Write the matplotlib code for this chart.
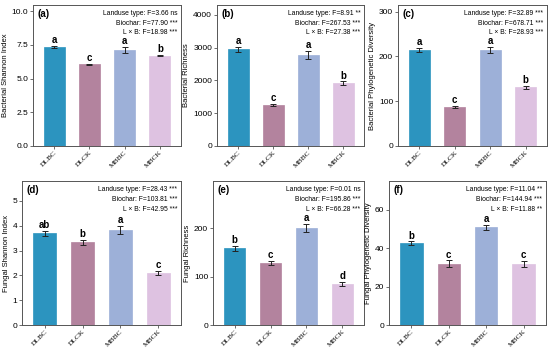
import matplotlib
matplotlib.use("Agg")
import matplotlib.pyplot as plt

plt.rcParams['font.family'] = ['Liberation Sans', 'DejaVu Sans']

groups = ['DLBC', 'DLCK', 'MBBC', 'MBCK']
colors = ['#2c94bf', '#b3839e', '#9db0d8', '#dec2e1']

# means, errors, letters for each panel
shannon_bac = [7.35, 6.07, 7.12, 6.68]
shannon_bac_err = [0.05, 0.04, 0.22, 0.04]
rich_bac = [2950, 1260, 2780, 1910]
rich_bac_err = [80, 30, 130, 60]
pd_bac = [214, 87, 215, 131]
pd_bac_err = [5, 3, 7, 4]
shannon_fun = [3.70, 3.33, 3.82, 2.10]
shannon_fun_err = [0.10, 0.10, 0.16, 0.08]
rich_fun = [158, 128, 200, 85]
rich_fun_err = [5, 5, 8, 4]
pd_fun = [42.5, 32.0, 50.8, 31.7]
pd_fun_err = [1.0, 1.6, 1.3, 1.5]

letters = [['a', 'c', 'a', 'b'], ['a', 'c', 'a', 'b'], ['a', 'c', 'a', 'b'],
           ['ab', 'b', 'a', 'c'], ['b', 'c', 'a', 'd'], ['b', 'c', 'a', 'c']]

stats = [
    ['Landuse type: F=3.66 ns', 'Biochar: F=77.90 ***', 'L × B: F=18.98 ***'],
    ['Landuse type: F=8.91 **', 'Biochar: F=267.53 ***', 'L × B: F=27.38 ***'],
    ['Landuse type: F=32.89 ***', 'Biochar: F=678.71 ***', 'L × B: F=28.93 ***'],
    ['Landuse type: F=28.43 ***', 'Biochar: F=103.81 ***', 'L × B: F=42.95 ***'],
    ['Landuse type: F=0.01 ns', 'Biochar: F=195.86 ***', 'L × B: F=66.28 ***'],
    ['Landuse type: F=11.04 **', 'Biochar: F=144.94 ***', 'L × B: F=11.88 **'],
]

ylabels = ['Bacterial Shannon Index', 'Bacterial Richness', 'Bacterial Phylogenetic Diversity',
           'Fungal Shannon Index', 'Fungal Richness', 'Fungal Phylogenetic Diversity']
panel_tags = ['(a)', '(b)', '(c)', '(d)', '(e)', '(f)']

data = [(shannon_bac, shannon_bac_err), (rich_bac, rich_bac_err), (pd_bac, pd_bac_err),
        (shannon_fun, shannon_fun_err), (rich_fun, rich_fun_err), (pd_fun, pd_fun_err)]

ylims = [10.45, 4300, 315, 5.8, 297, 75]
yticks = [[0, 2.5, 5.0, 7.5, 10.0], [0, 1000, 2000, 3000, 4000], [0, 100, 200, 300],
          [0, 1, 2, 3, 4, 5], [0, 100, 200], [0, 20, 40, 60]]
ytickfmt = ['{:.1f}', '{:.0f}', '{:.0f}', '{:.0f}', '{:.0f}', '{:.0f}']

# axes boxes in pixels: left, right, top, bottom
W, H = 550, 350
boxes = [(33, 181, 5, 146), (217, 364, 5, 146), (398, 547, 5, 146),
         (22, 181, 181, 325), (213, 364, 181, 325), (389, 546, 181, 325)]

fig = plt.figure(figsize=(5.5, 3.5), dpi=100)

for i in range(6):
    l, r, t, b = boxes[i]
    ax = fig.add_axes([l / W, 1 - b / H, (r - l) / W, (b - t) / H])
    vals, errs = data[i]
    x = range(len(groups))
    ax.bar(x, vals, width=0.6, color=colors, edgecolor=colors, linewidth=0.5)
    ax.errorbar(x, vals, yerr=errs, fmt='none', ecolor='#222222',
                elinewidth=0.7, capsize=2.5, capthick=0.7)
    ymax = ylims[i]
    for j in x:
        ax.text(j, vals[j] + errs[j] + ymax * 0.006, letters[i][j],
                ha='center', va='bottom', fontsize=7, fontweight='bold')
    ax.text(0.03, 0.975, panel_tags[i], transform=ax.transAxes, ha='left', va='top',
            fontsize=7, fontweight='bold')
    for k, s in enumerate(stats[i]):
        ax.text(0.975, 0.965 - k * 0.068, s, transform=ax.transAxes,
                ha='right', va='top', fontsize=4.9)
    ax.set_xlim(-0.6, 3.6)
    ax.set_ylim(0, ymax)
    ax.set_yticks(yticks[i])
    ax.set_yticklabels([ytickfmt[i].format(v) for v in yticks[i]], fontsize=6)
    ax.set_xticks(list(x))
    ax.set_xticklabels(groups, rotation=45, fontsize=5.4, family='Liberation Serif',
                       ha='right', va='top', rotation_mode='anchor')
    ax.set_ylabel(ylabels[i], fontsize=5.5, labelpad=2)
    for sp in ax.spines.values():
        sp.set_color('#555555')
        sp.set_linewidth(0.7)
    ax.tick_params(length=2, width=0.6, color='#555555', pad=1.5)
    ax.tick_params(axis='x', pad=0.8)

fig.savefig('out.png', dpi=100)
